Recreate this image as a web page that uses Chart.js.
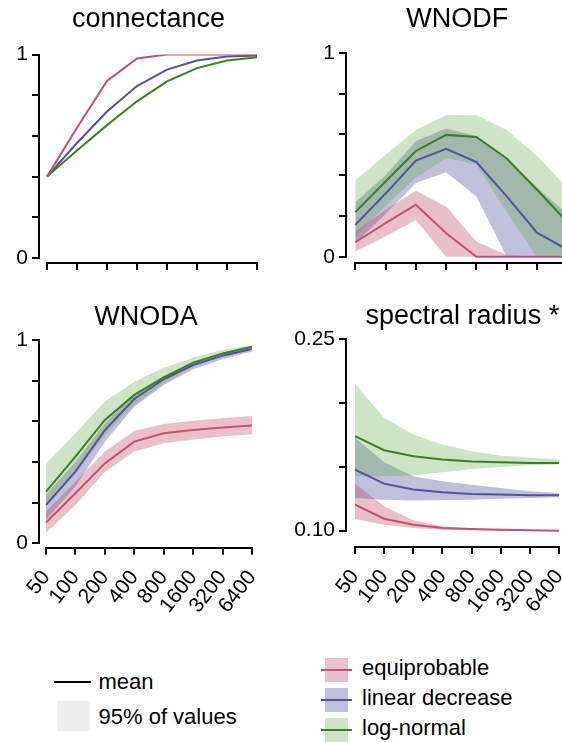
<!DOCTYPE html>
<html><head><meta charset="utf-8">
<script src="https://cdn.jsdelivr.net/npm/chart.js@4.4.1/dist/chart.umd.min.js"></script>
<style>
html,body{margin:0;padding:0;background:#fff;overflow:hidden;width:562px;height:742px;}
body{position:relative;font-family:"Liberation Sans",Arial,sans-serif;}
canvas{position:absolute;}
.sw{position:absolute;}
.t{position:absolute;font-size:22px;line-height:22px;color:#000;white-space:nowrap;}
</style></head><body>
<canvas id="c1" width="300" height="290" style="left:0;top:0"></canvas>
<canvas id="c2" width="300" height="290" style="left:290px;top:0"></canvas>
<canvas id="c3" width="300" height="330" style="left:0;top:290px"></canvas>
<canvas id="c4" width="300" height="330" style="left:290px;top:290px"></canvas>

<div class="sw" style="left:54px;top:681px;width:37px;height:2px;background:#000"></div>
<div class="t" style="left:98.5px;top:670.7px">mean</div>
<div class="sw" style="left:57px;top:701px;width:33px;height:30px;background:#f0f0f0"></div>
<div class="t" style="left:98.5px;top:705.7px">95% of values</div>

<div class="sw" id="lgEquiBox" style="left:325px;top:658px;width:23px;height:24px"></div>
<div class="sw" id="lgEquiLine" style="left:321px;top:669px;width:31px;height:2px"></div>
<div class="t" style="left:362px;top:657.4px">equiprobable</div>
<div class="sw" id="lgLinBox" style="left:325px;top:688px;width:23px;height:24px"></div>
<div class="sw" id="lgLinLine" style="left:321px;top:699px;width:31px;height:2px"></div>
<div class="t" style="left:362px;top:687.4px">linear decrease</div>
<div class="sw" id="lgLognBox" style="left:325px;top:718px;width:23px;height:24px"></div>
<div class="sw" id="lgLognLine" style="left:321px;top:729px;width:31px;height:2px"></div>
<div class="t" style="left:362px;top:717.4px">log-normal</div>

<script>
// ---------- data ----------
const categories = ['50','100','200','400','800','1600','3200','6400'];

const unitTicks = [0, 0.2, 0.4, 0.6, 0.8, 1];
const unitTickLabels = ['0', '', '', '', '', '1'];
const srTicks = [0.10, 0.15, 0.20, 0.25];
const srTickLabels = ['0.10', '', '', '0.25'];

// connectance (means)
const connEqui = [0.40, 0.64, 0.87, 0.98, 1.0, 1.0, 1.0, 1.0];
const connLin  = [0.40, 0.565, 0.72, 0.845, 0.926, 0.97, 0.99, 0.995];
const connLogn = [0.40, 0.528, 0.653, 0.77, 0.868, 0.933, 0.97, 0.987];

// WNODF
const wnodfEquiMean = [0.071, 0.165, 0.255, 0.115, 0, 0, 0, 0];
const wnodfEquiLo   = [0.025, 0.10, 0.18, 0, 0, 0, 0, 0];
const wnodfEquiHi   = [0.123, 0.23, 0.324, 0.247, 0.074, 0.008, 0, 0];
const wnodfLinMean  = [0.156, 0.31, 0.472, 0.53, 0.464, 0.296, 0.118, 0.035];
const wnodfLinLo    = [0.066, 0.21, 0.362, 0.415, 0.296, 0, 0, 0];
const wnodfLinHi    = [0.267, 0.40, 0.568, 0.629, 0.593, 0.477, 0.34, 0.21];
const wnodfLognMean = [0.219, 0.369, 0.519, 0.598, 0.588, 0.482, 0.329, 0.17];
const wnodfLognLo   = [0.10, 0.25, 0.387, 0.486, 0.453, 0.22, 0, 0];
const wnodfLognHi   = [0.375, 0.50, 0.622, 0.696, 0.695, 0.622, 0.494, 0.34];

// WNODA
const wnodaEquiMean = [0.102, 0.246, 0.393, 0.50, 0.541, 0.557, 0.57, 0.58];
const wnodaEquiLo   = [0.052, 0.189, 0.352, 0.451, 0.492, 0.511, 0.525, 0.536];
const wnodaEquiHi   = [0.156, 0.303, 0.451, 0.552, 0.587, 0.603, 0.615, 0.626];
const wnodaLinMean  = [0.189, 0.352, 0.557, 0.71, 0.807, 0.877, 0.923, 0.956];
const wnodaLinLo    = [0.115, 0.279, 0.50, 0.672, 0.779, 0.856, 0.905, 0.943];
const wnodaLinHi    = [0.24, 0.40, 0.59, 0.735, 0.822, 0.887, 0.932, 0.962];
const wnodaLognMean = [0.254, 0.426, 0.607, 0.73, 0.816, 0.889, 0.934, 0.967];
const wnodaLognLo   = [0.18, 0.344, 0.533, 0.68, 0.787, 0.869, 0.921, 0.954];
const wnodaLognHi   = [0.393, 0.541, 0.697, 0.795, 0.864, 0.913, 0.951, 0.975];

// spectral radius
const srEquiMean = [0.1204, 0.1094, 0.1047, 0.1021, 0.1013, 0.1008, 0.1003, 0.1000];
const srEquiLo   = [0.1092, 0.1047, 0.1021, 0.1008, 0.1003, 0.1000, 0.1000, 0.1000];
const srEquiHi   = [0.1369, 0.1191, 0.1081, 0.1034, 0.1016, 0.1008, 0.1005, 0.1003];
const srLinMean  = [0.1479, 0.1369, 0.1322, 0.1301, 0.1288, 0.1283, 0.1277, 0.1277];
const srLinLo    = [0.1257, 0.1243, 0.1236, 0.1238, 0.1243, 0.1251, 0.1257, 0.1262];
const srLinHi    = [0.1728, 0.1537, 0.1427, 0.1387, 0.1361, 0.1335, 0.1309, 0.1296];
const srLognMean = [0.1741, 0.1631, 0.1584, 0.1558, 0.1542, 0.1537, 0.1531, 0.1531];
const srLognLo   = [0.1427, 0.1427, 0.1432, 0.1458, 0.1484, 0.1500, 0.1513, 0.1518];
const srLognHi   = [0.2152, 0.1885, 0.1754, 0.1675, 0.1623, 0.1589, 0.1571, 0.1558];

// ---------- styles ----------
const COL = {
  equi: {line: '#c4506d', band: 'rgba(180,45,80,0.3)'},
  lin:  {line: '#52529e', band: 'rgba(45,45,140,0.3)'},
  logn: {line: '#3b7f24', band: 'rgba(90,170,60,0.3)'}
};
document.getElementById('lgEquiBox').style.background = COL.equi.band;
document.getElementById('lgEquiLine').style.background = COL.equi.line;
document.getElementById('lgLinBox').style.background = COL.lin.band;
document.getElementById('lgLinLine').style.background = COL.lin.line;
document.getElementById('lgLognBox').style.background = COL.logn.band;
document.getElementById('lgLognLine').style.background = COL.logn.line;

Chart.defaults.font.family = '"Liberation Sans", Arial, sans-serif';
Chart.defaults.color = '#000';

function pts(a) { return a.map((v, i) => ({x: i, y: v})); }
function lineSet(arr, color, order) {
  return {data: pts(arr), borderColor: color, borderWidth: 2, pointRadius: 0, fill: false, tension: 0, order};
}
function bandSet(hi, lo, color, order) {
  return [
    {data: pts(hi), borderColor: 'rgba(0,0,0,0)', borderWidth: 0, pointRadius: 0, backgroundColor: color, fill: '+1', order},
    {data: pts(lo), borderColor: 'rgba(0,0,0,0)', borderWidth: 0, pointRadius: 0, fill: false, order}
  ];
}

// detached (R-style) axis lines drawn from the scales
const rAxes = {
  id: 'rAxes',
  afterDraw(chart, args, o) {
    const {ctx, chartArea: a, scales: {x, y}} = chart;
    ctx.save();
    ctx.strokeStyle = '#000';
    ctx.lineWidth = 2;
    ctx.lineCap = 'square';
    ctx.beginPath();
    const ax = Math.round(a.left) - 1;
    ctx.moveTo(ax, Math.round(y.getPixelForValue(o.yTo)));
    ctx.lineTo(ax, Math.round(y.getPixelForValue(o.yFrom)));
    const ay = Math.round(a.bottom) + 1;
    ctx.moveTo(Math.round(x.getPixelForValue(o.xFrom)), ay);
    ctx.lineTo(Math.round(x.getPixelForValue(o.xTo)), ay);
    ctx.stroke();
    ctx.restore();
  }
};

function makePanel(id, p) {
  const gridOpts = {display: true, drawOnChartArea: false, drawTicks: true, tickLength: 8, color: '#000', lineWidth: 2};
  new Chart(document.getElementById(id), {
    type: 'line',
    data: {datasets: p.datasets},
    plugins: [rAxes],
    options: {
      responsive: false, animation: false, devicePixelRatio: 1,
      layout: {padding: {left: 0, right: p.padRight, top: 0, bottom: 0}},
      plugins: {
        legend: {display: false}, tooltip: {enabled: false},
        title: {display: true, text: p.title, fullSize: false, align: p.titleAlign || 'center', color: '#000',
                font: {size: 27, weight: 'normal', lineHeight: 1.2}, padding: {top: p.tTop - 0.6, bottom: p.tBot - 0.6}},
        rAxes: {yFrom: p.yTicks[0], yTo: p.yTicks[p.yTicks.length - 1], xFrom: 0, xTo: categories.length - 1}
      },
      scales: {
        x: {
          type: 'linear', min: p.xMin, max: categories.length - 1, bounds: 'data',
          afterBuildTicks: s => { s.ticks = categories.map((c, i) => ({value: i})); },
          afterFit: s => { s.height = p.xH; },
          grid: gridOpts, border: {display: false},
          ticks: {autoSkip: false, minRotation: p.rot, maxRotation: p.rot, padding: 11, color: '#000', font: {size: 21},
                  callback: (v, i) => p.showX ? categories[i] : ''}
        },
        y: {
          type: 'linear', min: p.yMin, max: p.yMax, bounds: 'data',
          afterBuildTicks: s => { s.ticks = p.yTicks.map(v => ({value: v})); },
          afterFit: s => { s.width = p.yW; },
          grid: gridOpts, border: {display: false},
          ticks: {padding: 4, color: '#000', font: {size: 21}, callback: (v, i) => p.yLabels[i]}
        }
      }
    }
  });
}

function bandedSets(eM, eL, eH, lM, lL, lH, gM, gL, gH) {
  return [
    lineSet(eM, COL.equi.line, 0),
    lineSet(gM, COL.logn.line, 1),
    lineSet(lM, COL.lin.line, 2),
    ...bandSet(eH, eL, COL.equi.band, 3),
    ...bandSet(gH, gL, COL.logn.band, 4),
    ...bandSet(lH, lL, COL.lin.band, 5)
  ];
}

makePanel('c1', {
  title: 'connectance', tTop: 4.4, tBot: 18.9,
  yMin: -0.0196, yMax: 1, yTicks: unitTicks, yLabels: unitTickLabels, yW: 40,
  xMin: -0.233, xH: 28, padRight: 43, showX: false, rot: 0,
  datasets: [lineSet(connEqui, COL.equi.line, 0), lineSet(connLogn, COL.logn.line, 1), lineSet(connLin, COL.lin.line, 2)]
});
makePanel('c2', {
  title: 'WNODF', tTop: 4.4, tBot: 17.4,
  yMin: -0.026, yMax: 1, yTicks: unitTicks, yLabels: unitTickLabels, yW: 57,
  xMin: -0.274, xH: 28, padRight: 22.7, showX: false, rot: 0,
  datasets: bandedSets(wnodfEquiMean, wnodfEquiLo, wnodfEquiHi, wnodfLinMean, wnodfLinLo, wnodfLinHi, wnodfLognMean, wnodfLognLo, wnodfLognHi)
});
makePanel('c3', {
  title: 'WNODA', tTop: 12.4, tBot: 6.4,
  yMin: -0.0167, yMax: 1, yTicks: unitTicks, yLabels: unitTickLabels, yW: 40,
  xMin: -0.204, xH: 73.3, padRight: 48, showX: true, rot: 52,
  datasets: bandedSets(wnodaEquiMean, wnodaEquiLo, wnodaEquiHi, wnodaLinMean, wnodaLinLo, wnodaLinHi, wnodaLognMean, wnodaLognLo, wnodaLognHi)
});
makePanel('c4', {
  title: 'spectral radius *', titleAlign: 'end', tTop: 11.4, tBot: 6.7,
  yMin: 0.088, yMax: 0.25, yTicks: srTicks, yLabels: srTickLabels, yW: 57,
  xMin: -0.273, xH: 74, padRight: 30, showX: true, rot: 52,
  datasets: bandedSets(srEquiMean, srEquiLo, srEquiHi, srLinMean, srLinLo, srLinHi, srLognMean, srLognLo, srLognHi)
});
</script>
</body></html>
